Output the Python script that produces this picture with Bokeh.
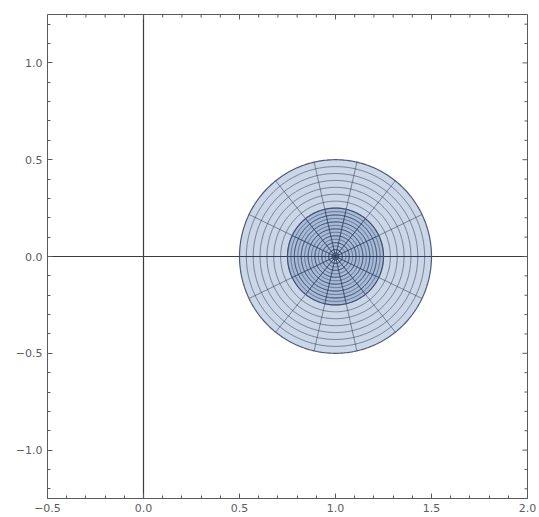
import numpy as np
from bokeh.plotting import figure
from bokeh.models import FixedTicker, Span, LinearAxis
from bokeh.embed import file_html
from bokeh.resources import INLINE

# ---- data ----
center_x = 1.0
center_y = 0.0
disk_radii = [0.5, 0.25]          # outer disk, inner disk
mesh_divisions = 14               # divisions in r and in theta for each disk
x_major = [-0.5, 0.0, 0.5, 1.0, 1.5, 2.0]
y_major = [-1.0, -0.5, 0.0, 0.5, 1.0]
x_labels = ["\u22120.5", "0.0", "0.5", "1.0", "1.5", "2.0"]
y_labels = ["\u22121.0", "\u22120.5", "0.0", "0.5", "1.0"]
x_minor = [round(-0.5 + 0.1 * i, 1) for i in range(26)]
y_minor = [round(-1.2 + 0.1 * i, 1) for i in range(25)]

X0, X1 = -0.5, 2.0
Y0, Y1 = -1.25, 1.25

FILL = "#5E81B5"
MESH = "#243150"
EDGE = "#3d4a6b"
FRAME = "#5a5a5a"
LABEL = "#5c5c5c"

p = figure(output_backend="svg", toolbar_location=None,
           x_range=(X0, X1), y_range=(Y0, Y1),
           frame_width=480, frame_height=484,
           min_border_left=47, min_border_right=10,
           min_border_top=14, min_border_bottom=17,
           x_axis_location=None, y_axis_location=None)
p.grid.visible = False
p.outline_line_color = FRAME
p.outline_line_width = 1
p.background_fill_color = "white"
p.border_fill_color = "white"

# axes through origin
p.add_layout(Span(location=0, dimension="height", line_color="#3c3c3c", line_width=1.2, level="underlay"))
p.add_layout(Span(location=0, dimension="width", line_color="#3c3c3c", line_width=1.2, level="underlay"))

t = np.linspace(0, 2 * np.pi, 361)
for R in disk_radii:
    p.patch(center_x + R * np.cos(t), center_y + R * np.sin(t),
            fill_color=FILL, fill_alpha=0.32, line_color=None)
    xs, ys = [], []
    for k in range(1, mesh_divisions):
        r = R * k / mesh_divisions
        xs.append(list(center_x + r * np.cos(t)))
        ys.append(list(center_y + r * np.sin(t)))
    for k in range(mesh_divisions):
        a = 2 * np.pi * k / mesh_divisions
        xs.append([center_x, center_x + R * np.cos(a)])
        ys.append([center_y, center_y + R * np.sin(a)])
    p.multi_line(xs, ys, line_color=MESH, line_alpha=0.5, line_width=1)
    p.line(center_x + R * np.cos(t), center_y + R * np.sin(t),
           line_color=EDGE, line_alpha=0.9, line_width=1.2)


def style_axis(ax, ticks, minor, labels):
    ax.ticker = FixedTicker(ticks=ticks, minor_ticks=minor)
    ax.axis_line_color = None
    ax.major_tick_in = 5
    ax.major_tick_out = 0
    ax.minor_tick_in = 3
    ax.minor_tick_out = 0
    ax.major_tick_line_color = FRAME
    ax.minor_tick_line_color = FRAME
    ax.major_tick_line_width = 1
    ax.minor_tick_line_width = 1
    ax.major_label_overrides = {v: s for v, s in zip(ticks, labels)}
    ax.major_label_text_font = "DejaVu Sans"
    ax.major_label_text_font_size = "11px"
    ax.major_label_text_color = LABEL
    ax.major_label_standoff = 5


bx = LinearAxis(); style_axis(bx, x_major, x_minor, x_labels); p.add_layout(bx, "below")
ly = LinearAxis(); style_axis(ly, y_major, y_minor, y_labels); p.add_layout(ly, "left")

# frame ticks on top and right sides (no labels), lengths in data units of ~5px / ~3px
px_x = (X1 - X0) / 480.0
px_y = (Y1 - Y0) / 484.0
minor_x = [v for v in x_minor if v not in x_major]
minor_y = [v for v in y_minor if v not in y_major]
p.segment(x0=x_major, y0=[Y1] * len(x_major), x1=x_major, y1=[Y1 - 5 * px_y] * len(x_major),
          line_color=FRAME, line_width=1)
p.segment(x0=minor_x, y0=[Y1] * len(minor_x), x1=minor_x, y1=[Y1 - 3 * px_y] * len(minor_x),
          line_color=FRAME, line_width=1)
p.segment(x0=[X1] * len(y_major), y0=y_major, x1=[X1 - 5 * px_x] * len(y_major), y1=y_major,
          line_color=FRAME, line_width=1)
p.segment(x0=[X1] * len(minor_y), y0=minor_y, x1=[X1 - 3 * px_x] * len(minor_y), y1=minor_y,
          line_color=FRAME, line_width=1)

open("out.html", "w").write(file_html(p, INLINE))
